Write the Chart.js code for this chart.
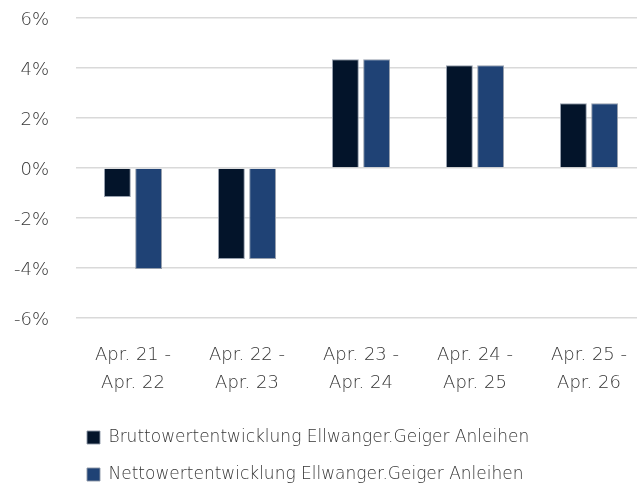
<!DOCTYPE html>
<html><head><meta charset="utf-8">
<script src="https://cdn.jsdelivr.net/npm/chart.js@4.4.1/dist/chart.umd.min.js"></script>
<style>html,body{margin:0;padding:0;overflow:hidden;background:#fff}
#wrap{position:relative;width:646px;height:502px}</style>
</head><body><div id="wrap"><canvas id="c"></canvas></div>
<script>
const categories = [["Apr. 21 -","Apr. 22"],["Apr. 22 -","Apr. 23"],["Apr. 23 -","Apr. 24"],["Apr. 24 -","Apr. 25"],["Apr. 25 -","Apr. 26"]];
const seriesNames = ["Bruttowertentwicklung Ellwanger.Geiger Anleihen","Nettowertentwicklung Ellwanger.Geiger Anleihen"];
const brutto = [-1.16, -3.64, 4.35, 4.11, 2.59];
const netto = [-4.04, -3.64, 4.35, 4.11, 2.59];
const yMin = -6, yMax = 6, yStep = 2;
const FONT = "'DejaVu Sans', sans-serif";
const TXT = '#353535';

const legendShift = {
  id: 'legendShift',
  afterLayout(chart) { if (chart.legend) { chart.legend.left = 67; chart.legend.top = 409; } }
};

new Chart(document.getElementById('c'), {
  type: 'bar',
  data: {
    labels: categories,
    datasets: [
      { label: seriesNames[0], data: brutto, backgroundColor: '#03142a', borderColor: 'rgba(140,150,165,0.9)', borderWidth: 1, categoryPercentage: 0.547, barPercentage: 0.86 },
      { label: seriesNames[1], data: netto, backgroundColor: '#1f4275', borderColor: 'rgba(140,150,165,0.9)', borderWidth: 1, categoryPercentage: 0.547, barPercentage: 0.86 }
    ]
  },
  options: {
    responsive: true, maintainAspectRatio: false, animation: false,
    devicePixelRatio: 1,
    layout: { padding: { top: 18, left: 0, right: 0, bottom: 0 } },
    plugins: {
      tooltip: { enabled: false },
      legend: {
        position: 'bottom', align: 'start',
        labels: { boxWidth: 13, boxHeight: 13, padding: 20, color: TXT, font: { family: FONT, size: 17, weight: 200 } }
      }
    },
    scales: {
      x: {
        grid: { display: false, drawTicks: false },
        border: { display: false },
        ticks: { color: TXT, padding: 23, maxRotation: 0, font: { family: FONT, size: 18, weight: 200, lineHeight: 1.556 } },
        afterFit(s) { s.height = 100; s.paddingLeft = 0; s.paddingRight = 0; }
      },
      y: {
        min: yMin, max: yMax,
        grid: { color: '#d9d9d9', lineWidth: 1.5, drawTicks: false },
        border: { display: false },
        ticks: { stepSize: yStep, color: TXT, padding: 27, labelOffset: 2, font: { family: FONT, size: 18, weight: 200 }, callback: v => v + '%' },
        afterFit(s) { s.width = 76; s.paddingTop = 0; s.paddingBottom = 0; }
      }
    }
  },
  plugins: [legendShift]
});
</script></body></html>
